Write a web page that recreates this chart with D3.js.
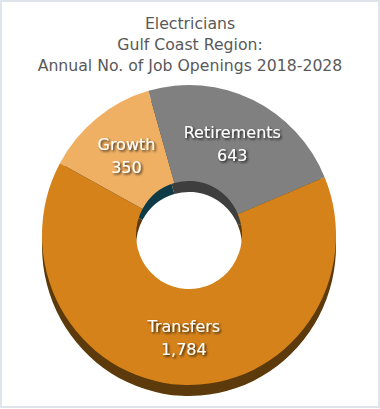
<!DOCTYPE html>
<html>
<head>
<meta charset="utf-8">
<script src="https://cdn.jsdelivr.net/npm/d3@7"></script>
<style>
  body { margin: 0; background: #fff; }
  text { font-family: "DejaVu Sans", sans-serif; }
</style>
</head>
<body>
<div id="chart"></div>
<script>
// Chart data
var categories = ["Growth", "Retirements", "Transfers"];
var openings = [350, 643, 1784];
var labelText = ["350", "643", "1,784"];
var titleLines = ["Electricians", "Gulf Coast Region:", "Annual No. of Job Openings 2018-2028"];

var topColors = ["#f0b064", "#808080", "#d5821b"];
var sideColors = ["#0f3b47", "#3e3e3e", "#5c3a0c"];

var svgWidth = 380;
var svgHeight = 409;

var cx = 189, cy = 235;
var outerR = 147, innerR = 53;
var squash = 150 / 147;   // slight tilt of the 3D donut
var depth = 11;

var svg = d3.select("#chart")
  .append("svg")
  .attr("width", svgWidth)
  .attr("height", svgHeight);

// outer frame
svg.append("rect")
  .attr("x", 1).attr("y", 1)
  .attr("width", svgWidth - 2).attr("height", svgHeight - 3)
  .attr("fill", "#fff")
  .attr("stroke", "#dfe4eb")
  .attr("stroke-width", 2);

var defs = svg.append("defs");
var shadow = defs.append("filter").attr("id", "txtShadow")
  .attr("x", "-20%").attr("y", "-20%").attr("width", "140%").attr("height", "140%");
shadow.append("feDropShadow")
  .attr("dx", 1.5).attr("dy", 1.5)
  .attr("stdDeviation", 1)
  .attr("flood-color", "#000")
  .attr("flood-opacity", 0.8);

// title
svg.append("g").selectAll("text")
  .data(titleLines)
  .enter()
  .append("text")
  .attr("x", svgWidth / 2)
  .attr("y", (d, i) => 29 + i * 21)
  .attr("text-anchor", "middle")
  .attr("fill", "#595959")
  .style("font-size", "15.7px")
  .text(d => d);

var data = categories.map((c, i) => ({ name: c, value: openings[i], label: labelText[i] }));

// Growth starts a little left of 12 o'clock
var startA = -61.4 * Math.PI / 180;
var pie = d3.pie()
  .sort(null)
  .value(d => d.value)
  .startAngle(startA)
  .endAngle(startA + 2 * Math.PI);

var arcs = pie(data);

var arc = d3.arc()
  .innerRadius(innerR)
  .outerRadius(outerR);

// side walls: same donut pushed down by the depth
var sideFace = svg.append("g")
  .attr("transform", `translate(${cx}, ${cy + depth}) scale(1, ${squash})`);
sideFace.selectAll("path")
  .data(arcs)
  .enter()
  .append("path")
  .attr("d", arc)
  .attr("fill", (d, i) => sideColors[i]);

// top face
var topFace = svg.append("g")
  .attr("transform", `translate(${cx}, ${cy}) scale(1, ${squash})`);
topFace.selectAll("path")
  .data(arcs)
  .enter()
  .append("path")
  .attr("d", arc)
  .attr("fill", (d, i) => topColors[i]);

// labels
var labels = svg.append("g").attr("filter", "url(#txtShadow)");
arcs.forEach(function(d) {
  var c = arc.centroid(d);
  var x = cx + c[0];
  var y = cy + c[1] * squash;
  var t = labels.append("text")
    .attr("x", x)
    .attr("y", y)
    .attr("text-anchor", "middle")
    .attr("fill", "#fff")
    .style("font-size", "16px");
  t.append("tspan").attr("x", x).attr("dy", -5).text(d.data.name);
  t.append("tspan").attr("x", x).attr("dy", 23).text(d.data.label);
});
</script>
</body>
</html>
